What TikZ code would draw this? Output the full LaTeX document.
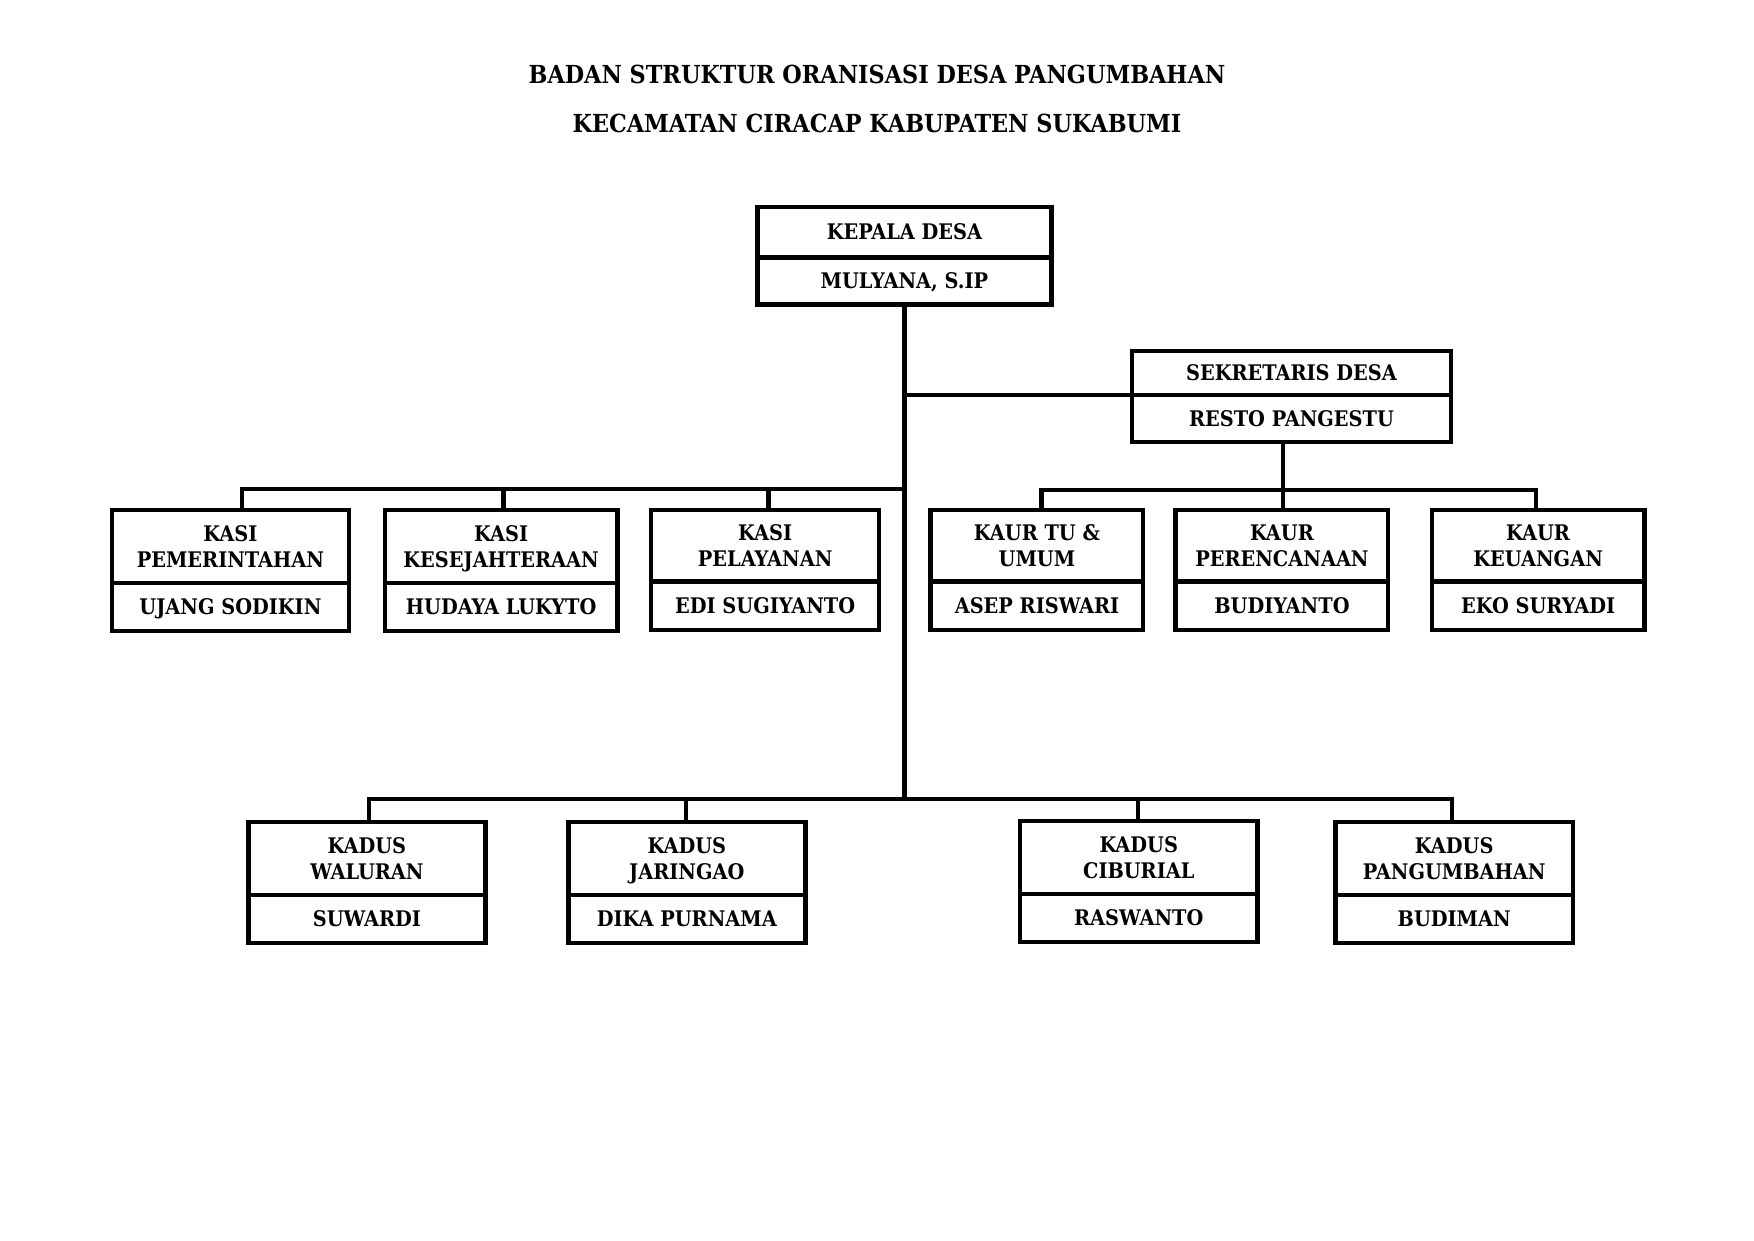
\documentclass[tikz,border=0pt]{standalone}
\usepackage{fontspec}
\setmainfont{DejaVu Serif Condensed}
\newcommand\capline[1]{\vphantom{A}\smash{#1}}
\newcommand\orgunit[8]{%
  \pgfmathsetmacro\ouw{(#3-#2)*0.5}%
  \pgfmathsetmacro\ouht{(#5-#4)*0.5}%
  \pgfmathsetmacro\ouhb{(#6-#5)*0.5}%
  \node[box,minimum width=\ouw pt,minimum height=\ouht pt] (#1) at ({(#2+#3)/2},{(#4+#5)/2}) {#7};
  \node[box,minimum width=\ouw pt,minimum height=\ouhb pt] (#1n) at ({(#2+#3)/2},{(#5+#6)/2}) {\capline{#8}};
}
\begin{document}
\begin{tikzpicture}[x=0.5pt,y=-0.5pt,
  box/.style={draw,line width=2pt,fill=white,inner sep=0pt,outer sep=0pt,align=center,
    font=\bfseries\fontsize{9.6}{11.5}\selectfont},
  conn/.style={line width=1.9pt},
  ttl/.style={font=\bfseries\fontsize{11.1}{12}\selectfont,inner sep=0pt}]
\useasboundingbox (0,0) rectangle (1568,1109);

\node[ttl] (t1) at (784,67) {BADAN STRUKTUR ORANISASI DESA PANGUMBAHAN};
\node[ttl] (t2) at (784,110) {KECAMATAN CIRACAP KABUPATEN SUKABUMI};

% coordinates of buses
\coordinate (trunkEnd) at (808.5,714);
\coordinate (busL) at (808.5,437);
\coordinate (busR) at (1147,438);
\coordinate (d1) at (216,437);
\coordinate (d2) at (450,437);
\coordinate (d3) at (687,437);
\coordinate (d4) at (931,438);
\coordinate (d6) at (1373,438);
\coordinate (e1) at (330,714);
\coordinate (e2) at (613,714);
\coordinate (e3) at (1017,714);
\coordinate (e4) at (1298,714);

% connectors (drawn first, boxes on top)
\draw[conn] (808.5,272) -- (trunkEnd);
\draw[conn] (808.5,353) -- (1012,353);
\draw[conn] (1147,395) -- (busR);
\draw[conn,line cap=rect] (d1) -- (busL);
\draw[conn] (d1) -- (216,456);
\draw[conn] (d2) -- (450,456);
\draw[conn] (d3) -- (687,456);
\draw[conn,line cap=rect] (d4) -- (d6);
\draw[conn] (d4) -- (931,456);
\draw[conn] (busR) -- (1147,456);
\draw[conn] (d6) -- (1373,456);
\draw[conn,line cap=rect] (e1) -- (e4);
\draw[conn] (e1) -- (330,735);
\draw[conn] (e2) -- (613,735);
\draw[conn] (e3) -- (1017,734);
\draw[conn] (e4) -- (1298,735);

\orgunit{kd}{677}{940}{185}{230}{272}{\capline{KEPALA DESA}}{MULYANA, S.IP}
\orgunit{sek}{1012}{1297}{314}{353}{395}{\capline{SEKRETARIS DESA}}{RESTO PANGESTU}

\orgunit{k1}{100}{312}{456}{521}{564}{\capline{KASI}\\\capline{PEMERINTAHAN}}{UJANG SODIKIN}
\orgunit{k2}{344}{552}{456}{521}{564}{\capline{KASI}\\\capline{KESEJAHTERAAN}}{HUDAYA LUKYTO}
\orgunit{k3}{582}{786}{456}{520}{563}{\capline{KASI}\\\capline{PELAYANAN}}{EDI SUGIYANTO}
\orgunit{u1}{832}{1022}{456}{520}{563}{\capline{KAUR TU \&}\\\capline{UMUM}}{ASEP RISWARI}
\orgunit{u2}{1051}{1241}{456}{520}{563}{\capline{KAUR}\\\capline{PERENCANAAN}}{BUDIYANTO}
\orgunit{u3}{1280}{1470}{456}{520}{563}{\capline{KAUR}\\\capline{KEUANGAN}}{EKO SURYADI}

\orgunit{p1}{222}{434}{735}{800}{843}{\capline{KADUS}\\\capline{WALURAN}}{SUWARDI}
\orgunit{p2}{508}{720}{735}{800}{843}{\capline{KADUS}\\\capline{JARINGAO}}{DIKA PURNAMA}
\orgunit{p3}{912}{1124}{734}{799}{842}{\capline{KADUS}\\\capline{CIBURIAL}}{RASWANTO}
\orgunit{p4}{1194}{1406}{735}{800}{843}{\capline{KADUS}\\\capline{PANGUMBAHAN}}{BUDIMAN}
\end{tikzpicture}
\end{document}
